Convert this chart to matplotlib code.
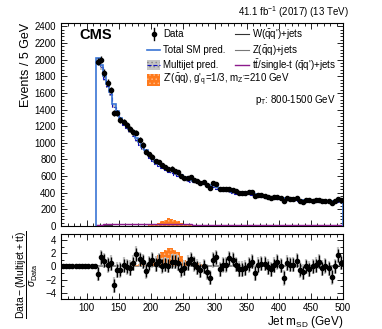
import matplotlib
matplotlib.use("Agg")
import matplotlib.pyplot as plt
import numpy as np
from matplotlib.ticker import MultipleLocator
from matplotlib.patches import Rectangle

plt.rcParams['font.family'] = ['Liberation Sans', 'DejaVu Sans']
plt.rcParams['mathtext.fontset'] = 'custom'
plt.rcParams['mathtext.rm'] = 'Liberation Sans'
plt.rcParams['mathtext.it'] = 'Liberation Sans:italic'
plt.rcParams['mathtext.bf'] = 'Liberation Sans:bold'
plt.rcParams['hatch.linewidth'] = 0.6

# binning: 5 GeV from 60 to 500, mass cut at 115
all_edges = np.arange(60, 505, 5)
edges = np.arange(115, 505, 5)
centers = edges[:-1] + 2.5
pre_centers = all_edges[:11] + 2.5

## data (events / 5 GeV)
data = [1975, 2000, 1840, 1720, 1635, 1360, 1360, 1275, 1250, 1210,
        1164, 1132, 1124, 1040, 975, 892, 860, 835, 780, 768,
        730, 712, 684, 690, 662, 644, 600, 580, 576, 584,
        556, 536, 520, 530, 490, 460, 512, 500, 448, 446,
        442, 448, 436, 415, 398, 396, 396, 404, 410, 362,
        372, 374, 366, 352, 338, 346, 352, 336, 304, 340,
        330, 326, 334, 296, 292, 312, 308, 306, 308, 318,
        300, 306, 296, 276, 300, 328, 312]

total_sm = [2025, 1940, 1800, 1710, 1615, 1465, 1385, 1295, 1245, 1210,
            1172, 1118, 1062, 1008, 955, 910, 850, 808, 772, 745,
            725, 704, 680, 668, 645, 630, 612, 588, 566, 556,
            546, 538, 532, 528, 510, 496, 488, 470, 458, 442,
            436, 424, 414, 408, 405, 403, 400, 398, 394, 380,
            368, 364, 358, 354, 346, 342, 338, 334, 332, 330,
            325, 321, 317, 309, 307, 310, 310, 306, 305, 305,
            304, 303, 301, 300, 299, 297, 300]

ttbar = [18, 18, 19, 19, 20, 20, 21, 21, 22, 22,
         23, 23, 24, 24, 24, 25, 25, 25, 24, 24,
         23, 23, 22, 22, 21, 21, 20, 20, 19, 19,
         18, 18, 18, 17, 17, 17, 16, 16, 16, 16,
         15, 15, 15, 15, 14, 14, 14, 14, 14, 13,
         13, 13, 13, 13, 12, 12, 12, 12, 12, 12,
         11, 11, 11, 11, 11, 11, 10, 10, 10, 10,
         10, 10, 10, 9, 9, 9, 9]

wjets = [9, 8, 8, 7, 7, 6, 6, 6, 5, 5,
         5, 5, 4, 4, 4, 4, 4, 4, 3, 3,
         3, 3, 3, 3, 3, 3, 3, 3, 3, 3,
         2, 2, 2, 2, 2, 2, 2, 2, 2, 2,
         2, 2, 2, 2, 2, 2, 2, 2, 2, 2,
         2, 2, 2, 2, 2, 2, 2, 1, 1, 1,
         1, 1, 1, 1, 1, 1, 1, 1, 1, 1,
         1, 1, 1, 1, 1, 1, 1]

zjets = [6, 5, 5, 5, 4, 4, 4, 4, 3, 3,
         3, 3, 3, 3, 3, 2, 2, 2, 2, 2,
         2, 2, 2, 2, 2, 2, 2, 2, 2, 2,
         2, 1, 1, 1, 1, 1, 1, 1, 1, 1,
         1, 1, 1, 1, 1, 1, 1, 1, 1, 1,
         1, 1, 1, 1, 1, 1, 1, 1, 1, 1,
         1, 1, 1, 1, 1, 1, 1, 1, 1, 1,
         1, 1, 1, 1, 1, 1, 1]

mj_rel_unc = 0.015

# Z' signal, starting at 185 GeV
sig_start = 185
sig_top = [3, 5, 8, 14, 24, 38, 58, 78, 92, 90, 75, 55, 36, 22, 13, 8, 5, 3, 2]

## ratio panel: (data - (multijet + tt)) / sigma_data
pre_pulls = [0, 0, 0, 0, 0, 0, 0, 0, 0, 0, 0]
pulls = [-1.1, 1.4, 0.9, 0.25, 0.5, -2.85, -0.55, -0.5, 0.2, -0.05,
         -0.25, 0.5, 1.9, 1.1, 0.75, -0.65, 0.4, 1.0, 0.35, 0.9,
         0.1, 0.3, 0.15, 0.75, 0.75, 0.5, -0.5, -0.25, 0.5, 1.1,
         0.4, -0.1, -0.55, 0.0, -0.8, -1.7, 1.0, 1.4, -0.45, 0.25,
         0.25, 1.25, 1.05, 0.3, -0.4, -0.4, -0.25, 0.25, 0.75, -1.0,
         0.2, 0.45, 0.45, -0.1, -0.45, 0.2, 0.7, 0.15, -1.75, 0.5,
         0.3, 0.3, 0.9, -0.5, -0.85, 0.0, -0.4, 0.0, 0.2, 0.75,
         -0.25, 0.1, -0.3, -1.6, 0.0, 1.75, 0.6]
pull_band = 1.2

sig_pull_start = 200
sig_pull = [0.4, 1.0, 1.7, 2.3, 2.6, 2.8, 2.8, 2.6, 2.2, 1.6, 1.0, 0.5]
broad_start = 170
sig_broad = [0.2, 0.3, 0.35, 0.4, 0.5, 0.6, 0.7, 0.8, 0.8, 0.8, 0.8, 0.8,
             0.8, 0.8, 0.85, 0.9, 0.9, 0.8, 0.7, 0.6, 0.5, 0.4, 0.3]

data = np.array(data, dtype=float)
total_sm = np.array(total_sm, dtype=float)
multijet = total_sm - np.array(ttbar) - np.array(wjets) - np.array(zjets)

blue = '#3a74d4'
navy = '#1010c0'
orange = '#ff7a1c'
orange_dots = '#ffb782'
purple = '#8c1a8c'
band_gray = '#c4c4c4'
band_dots = '#8a8a8a'

fig = plt.figure(figsize=(3.82, 3.29), dpi=100)
ax = fig.add_axes([0.160, 0.313, 0.738, 0.617])
rax = fig.add_axes([0.160, 0.091, 0.738, 0.198])

# signal
sig_edges = np.arange(sig_start, sig_start + 5 * len(sig_top) + 1, 5)
ax.stairs(sig_top, sig_edges, fill=True, facecolor=orange, edgecolor=orange_dots,
          hatch='....', lw=0, zorder=2)

# multijet band
ax.stairs(multijet * (1 + mj_rel_unc), edges, baseline=multijet * (1 - mj_rel_unc),
          fill=True, facecolor=band_gray, edgecolor=band_dots, hatch='....', lw=0, zorder=3)
ax.stairs(multijet, edges, color=navy, ls='--', lw=0.8, baseline=None, zorder=4)
ax.stairs(total_sm, edges, color=blue, lw=1.2, zorder=5)
ax.stairs(wjets, edges, color='#333333', lw=0.8, baseline=None, zorder=4)
ax.stairs(zjets, edges, color='#777777', lw=0.8, baseline=None, zorder=4)
ax.stairs(ttbar, edges, color=purple, lw=1.0, baseline=None, zorder=4)

ax.errorbar(centers, data, yerr=np.sqrt(data), fmt='o', color='black',
            ms=3, lw=1.0, capsize=0, zorder=6)

ax.set_xlim(60, 500)
ax.set_ylim(0, 2440)
ax.xaxis.set_major_locator(MultipleLocator(50))
ax.xaxis.set_minor_locator(MultipleLocator(10))
ax.yaxis.set_major_locator(MultipleLocator(200))
ax.yaxis.set_minor_locator(MultipleLocator(40))
ax.tick_params(labelbottom=False)
ax.set_ylabel('Events / 5 GeV', fontsize=9, loc='top')
ax.yaxis.set_label_coords(-0.105, 1.0)

ax.text(0.065, 0.975, 'CMS', transform=ax.transAxes, fontsize=10.5, fontweight='bold',
        ha='left', va='top')
ax.text(0.975, 0.62, r'p$_{\rm T}$: 800-1500 GeV', transform=ax.transAxes, fontsize=7,
        ha='right', va='center')
ax.text(1.02, 1.015, r'41.1 fb$^{-1}$ (2017) (13 TeV)', transform=ax.transAxes, fontsize=7,
        ha='right', va='bottom')

# legend, drawn entry by entry (two columns, ROOT style)
tr = ax.transAxes
rows = [0.944, 0.868, 0.794, 0.720]
lx0, lx1, ltx = 0.305, 0.352, 0.362
rx0, rx1, rtx = 0.617, 0.668, 0.677


def leg_text(x, y, s):
    ax.text(x, y, s, transform=tr, fontsize=7, ha='left', va='center')


# Data
ax.plot([(lx0 + lx1) / 2], [rows[0]], 'o', color='black', ms=3, transform=tr, clip_on=False)
ax.plot([(lx0 + lx1) / 2] * 2, [rows[0] - 0.03, rows[0] + 0.03], color='black', lw=1.0,
        transform=tr, clip_on=False)
leg_text(ltx, rows[0], 'Data')
# Total SM
ax.plot([lx0, lx1], [rows[1]] * 2, color=blue, lw=1.2, transform=tr, clip_on=False)
leg_text(ltx, rows[1], 'Total SM pred.')
# Multijet
ax.add_patch(Rectangle((lx0, rows[2] - 0.025), lx1 - lx0, 0.05, transform=tr,
                       facecolor=band_gray, edgecolor=band_dots, hatch='....', lw=0))
ax.plot([lx0, lx1], [rows[2]] * 2, color=navy, ls='--', lw=0.8, transform=tr, clip_on=False)
leg_text(ltx, rows[2], 'Multijet pred.')
# signal
ax.add_patch(Rectangle((lx0, rows[3] - 0.03), lx1 - lx0, 0.06, transform=tr,
                       facecolor=orange, edgecolor=orange_dots, hatch='....', lw=0))
leg_text(ltx, rows[3], r"Z'($\bar{\rm q}$q), g$'_{\rm q}$=1/3, m$_{\rm Z'}$=210 GeV")
# right column
ax.plot([rx0, rx1], [rows[0]] * 2, color='#333333', lw=0.8, transform=tr, clip_on=False)
leg_text(rtx, rows[0], r"W($\bar{\rm q}$q')+jets")
ax.plot([rx0, rx1], [rows[1]] * 2, color='#777777', lw=0.8, transform=tr, clip_on=False)
leg_text(rtx, rows[1], r"Z($\bar{\rm q}$q)+jets")
ax.plot([rx0, rx1], [rows[2]] * 2, color=purple, lw=1.0, transform=tr, clip_on=False)
leg_text(rtx, rows[2], r"t$\bar{\rm t}$/single-t ($\bar{\rm q}$q')+jets")

# ratio panel
rax.axhline(0, color='#8c8c8c', lw=1.4, zorder=1)
broad_edges = np.arange(broad_start, broad_start + 5 * len(sig_broad) + 1, 5)
rax.stairs(sig_broad, broad_edges, fill=True, facecolor='#ff9a50', edgecolor=orange_dots,
           hatch='....', lw=0, alpha=0.9, zorder=2)
sp_edges = np.arange(sig_pull_start, sig_pull_start + 5 * len(sig_pull) + 1, 5)
rax.stairs(sig_pull, sp_edges, fill=True, facecolor=orange, edgecolor=orange_dots,
           hatch='....', lw=0, zorder=2)
rax.errorbar(centers, pulls, yerr=pull_band, fmt='none', ecolor='#c2c2c2', lw=1.6,
             capsize=0, zorder=3)
rax.errorbar(centers, pulls, yerr=1.0, fmt='o', color='black', ms=3, lw=1.0,
             capsize=0, zorder=4)
rax.plot(pre_centers, pre_pulls, 'o', color='black', ms=3, zorder=4)

rax.set_xlim(60, 500)
rax.set_ylim(-5, 5)
rax.xaxis.set_major_locator(MultipleLocator(50))
rax.xaxis.set_minor_locator(MultipleLocator(10))
rax.yaxis.set_major_locator(MultipleLocator(2))
rax.yaxis.set_minor_locator(MultipleLocator(1))
rax.set_xlabel(r'Jet m$_{\rm SD}$ (GeV)', fontsize=8.5, loc='right')
rax.xaxis.set_label_coords(1.0, -0.23)
rax.set_ylabel(r'$\dfrac{\mathrm{Data} - (\mathrm{Multijet} + \mathrm{t\bar{t}})}{\sigma_{\mathrm{Data}}}$',
               fontsize=7.5)
rax.yaxis.set_label_coords(-0.075, 0.37)

for a in (ax, rax):
    a.tick_params(which='both', direction='in', top=True, right=True, labelsize=7, width=0.6)
    a.tick_params(which='major', length=4.5)
    a.tick_params(which='minor', length=2.5)
    for s in a.spines.values():
        s.set_linewidth(0.8)
rax.tick_params(axis='x', which='major', pad=2.5)

fig.savefig('out.png', dpi=100)
